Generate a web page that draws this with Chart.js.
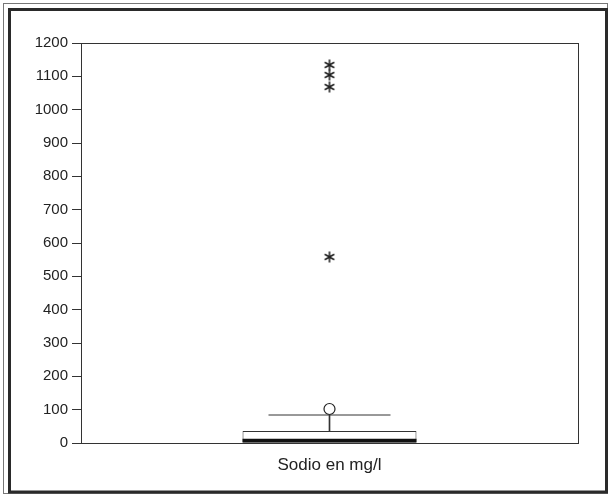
<!DOCTYPE html>
<html>
<head>
<meta charset="utf-8">
<script src="https://cdn.jsdelivr.net/npm/chart.js@4/dist/chart.umd.min.js"></script>
<style>
  html, body { margin: 0; padding: 0; background: #fff; }
  #wrap { width: 609px; height: 495px; position: relative; }
</style>
</head>
<body>
<div id="wrap"><canvas id="chart"></canvas></div>
<script>
// Data
const categories = ['Sodio en mg/l'];
const boxRange = [0, 36];        // Q1 .. Q3
const medianBand = [0, 13];      // thick median band
const whiskerStem = [36, 84];
const whiskerTop = [84];
const outliers = [102];
const extremes = [558, 1068, 1104, 1134];
const yTicks = [0, 100, 200, 300, 400, 500, 600, 700, 800, 900, 1000, 1100, 1200];

// asterisk marker
function makeStar() {
    const c = document.createElement('canvas');
    c.width = 14; c.height = 14;
    const g = c.getContext('2d');
    g.strokeStyle = '#222';
    g.lineWidth = 1.6;
    [90, 30, 150].forEach(a => {
        const r = a * Math.PI / 180;
        g.beginPath();
        g.moveTo(7 - 5.5 * Math.cos(r), 7 - 5.5 * Math.sin(r));
        g.lineTo(7 + 5.5 * Math.cos(r), 7 + 5.5 * Math.sin(r));
        g.stroke();
    });
    return c;
}

// frame + plot box
const framePlugin = {
    id: 'frame',
    beforeDraw(chart) {
        const ctx = chart.ctx;
        ctx.save();
        ctx.fillStyle = '#fff';
        ctx.fillRect(0, 0, chart.width, chart.height);
        ctx.strokeStyle = '#777';
        ctx.lineWidth = 1;
        ctx.strokeRect(3.5, 3.5, 604, 490);
        ctx.strokeStyle = '#2a2a2a';
        ctx.lineWidth = 3;
        ctx.strokeRect(9.5, 9.5, 597, 482.5);
        ctx.restore();
    },
    afterDatasetsDraw(chart) {
        const a = chart.chartArea;
        const ctx = chart.ctx;
        ctx.save();
        ctx.strokeStyle = '#333';
        ctx.lineWidth = 1;
        ctx.strokeRect(Math.round(a.left) + 0.5, Math.round(a.top) + 0.5,
            Math.round(a.right - a.left), Math.round(a.bottom - a.top));
        ctx.restore();
    }
};

const star = makeStar();
const cat = categories[0];

new Chart(document.getElementById('chart'), {
    data: {
        labels: categories,
        datasets: [
            {
                type: 'bar',
                data: [boxRange],
                backgroundColor: '#fff',
                borderColor: '#333',
                borderWidth: 1,
                borderSkipped: false,
                barPercentage: 0.35,
                categoryPercentage: 1,
                grouped: false,
                order: 3
            },
            {
                type: 'bar',
                data: [medianBand],
                backgroundColor: '#111',
                borderWidth: 0,
                barPercentage: 0.35,
                categoryPercentage: 1,
                grouped: false,
                order: 2
            },
            {
                type: 'bar',
                data: [whiskerStem],
                backgroundColor: '#333',
                borderWidth: 0,
                barThickness: 1,
                grouped: false,
                order: 1
            },
            {
                type: 'scatter',
                data: whiskerTop.map(v => ({ x: cat, y: v })),
                pointStyle: 'line',
                pointRadius: 61,
                borderColor: '#333',
                borderWidth: 1,
                clip: false,
                order: 0
            },
            {
                type: 'scatter',
                data: outliers.map(v => ({ x: cat, y: v })),
                pointStyle: 'circle',
                pointRadius: 5.5,
                backgroundColor: '#fff',
                borderColor: '#222',
                borderWidth: 1.2,
                order: 0
            },
            {
                type: 'scatter',
                data: extremes.map(v => ({ x: cat, y: v })),
                pointStyle: star,
                order: 0
            }
        ]
    },
    options: {
        responsive: true,
        maintainAspectRatio: false,
        animation: false,
        layout: { autoPadding: false, padding: { top: 43, right: 31, left: 0, bottom: 0 } },
        plugins: {
            legend: { display: false },
            tooltip: { enabled: false }
        },
        scales: {
            x: {
                type: 'category',
                offset: true,
                grid: { display: false },
                border: { display: false },
                ticks: {
                    color: '#222',
                    padding: 4,
                    font: { family: 'Liberation Sans, Arial, sans-serif', size: 17 }
                },
                afterFit(scale) { scale.height = 52; }
            },
            y: {
                min: 0,
                max: 1200,
                afterBuildTicks(scale) { scale.ticks = yTicks.map(v => ({ value: v })); },
                grid: {
                    drawOnChartArea: false,
                    drawTicks: true,
                    tickLength: 9,
                    color: '#333'
                },
                border: { display: false },
                ticks: {
                    color: '#222',
                    padding: 4,
                    font: { family: 'Liberation Sans, Arial, sans-serif', size: 15 },
                    callback: v => String(v)
                },
                afterFit(scale) { scale.width = 81; }
            }
        }
    },
    plugins: [framePlugin]
});
</script>
</body>
</html>
